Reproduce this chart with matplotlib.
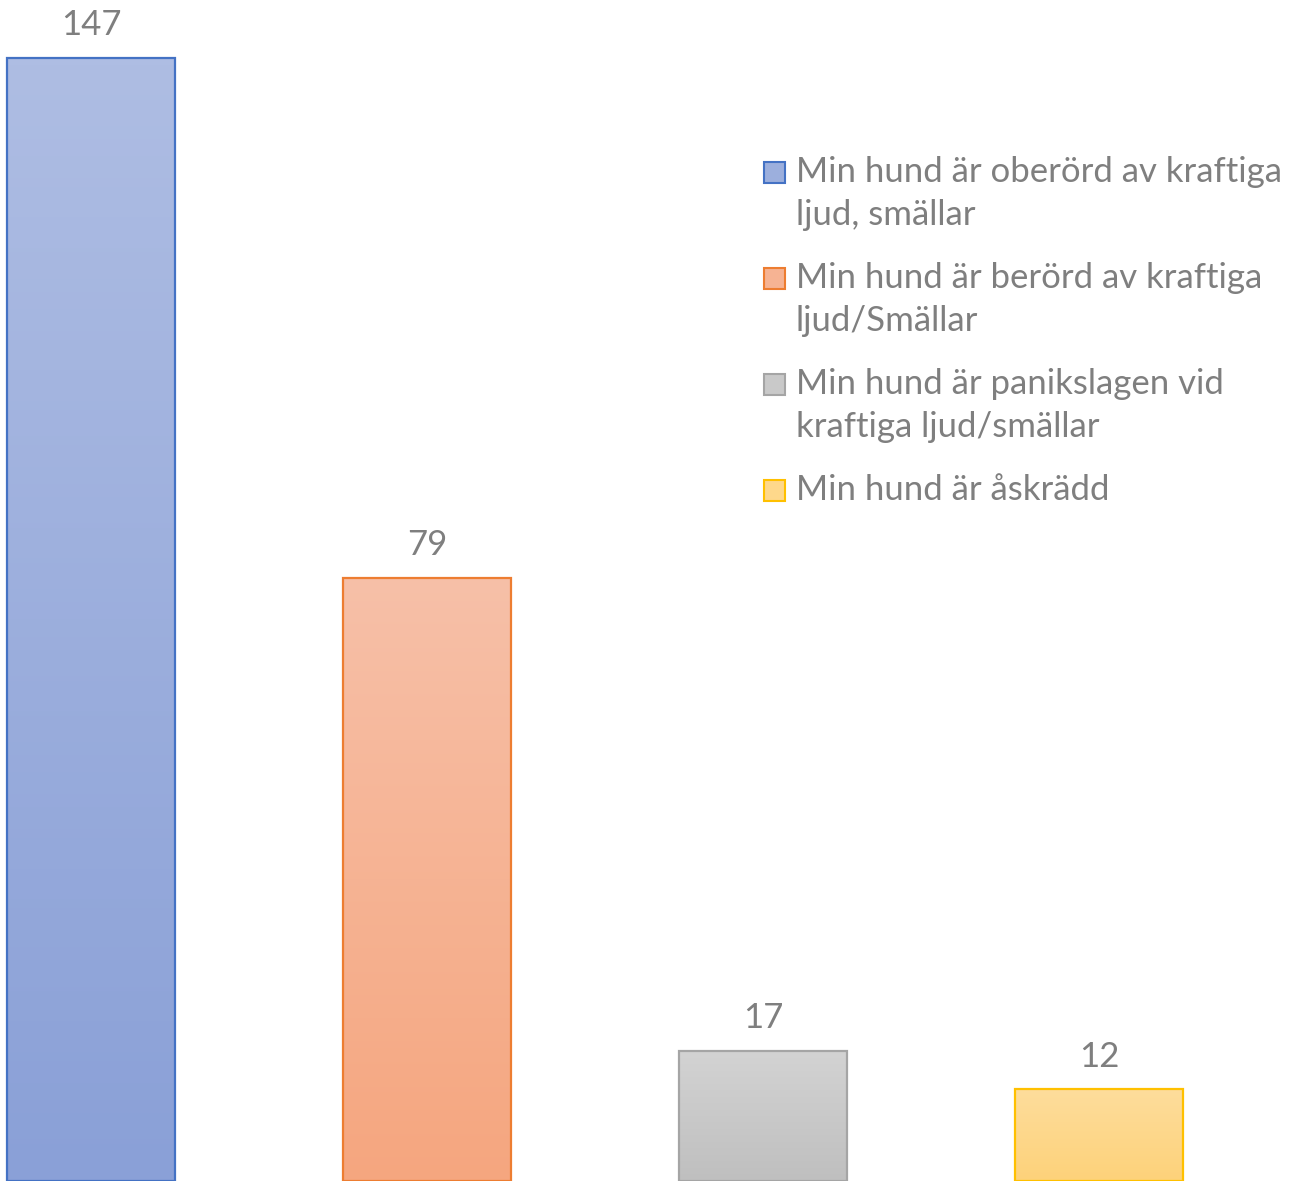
import numpy as np
import matplotlib.pyplot as plt
from matplotlib.colors import LinearSegmentedColormap, to_rgb
from matplotlib.patches import Rectangle

plt.rcParams['font.family'] = ['Lato', 'DejaVu Sans']

# data
labels = [
    "Min hund är oberörd av kraftiga\nljud, smällar",
    "Min hund är berörd av kraftiga\nljud/Smällar",
    "Min hund är panikslagen vid\nkraftiga ljud/smällar",
    "Min hund är åskrädd",
]
values = [147, 79, 17, 12]

# excel-ish styling: (top colour, bottom colour, edge colour)
tops = ['#aebde3', '#f7c0a8', '#d3d3d3', '#fedd9c']
bottoms = ['#8aa0d7', '#f5a67f', '#bfbfbf', '#fdd27a']
edges = ['#4472c4', '#ed7d31', '#a5a5a5', '#ffc000']
text_col = '#7f7f7f'

W, H = 1292, 1181
fig = plt.figure(figsize=(W / 100, H / 100), dpi=100)
ax = fig.add_axes([0, 0, 1, 1])
ax.set_xlim(-0.271, 3.574)
ax.set_ylim(0, 154.6)
ax.axis('off')

x = np.arange(len(values))
bars = ax.bar(x, values, width=0.5, facecolor='none', edgecolor='none')

grad = np.linspace(1, 0, 256).reshape(-1, 1)
for b, v, top, bot, ec in zip(bars, values, tops, bottoms, edges):
    x0, w = b.get_x(), b.get_width()
    cmap = LinearSegmentedColormap.from_list('g', [bot, top])
    im = ax.imshow(grad, cmap=cmap, aspect='auto', extent=(x0, x0 + w, 0, v),
                   interpolation='bilinear', zorder=1)
    im.set_clip_path(b)
    b.set_edgecolor(ec)
    b.set_linewidth(1.6)
    b.set_zorder(2)
    ax.annotate(str(v), (x0 + w / 2, v), xytext=(0, 12), textcoords='offset points',
                ha='center', va='bottom', fontsize=25, color=text_col)

# legend, laid out by hand (pixel positions -> figure fraction)
line_h, gap = 45, 16
ytop = 150
for lab, top, bot, ec in zip(labels, tops, bottoms, edges):
    fc = (np.array(to_rgb(top)) + np.array(to_rgb(bot))) / 2
    fig.add_artist(Rectangle((764 / W, 1 - (ytop + 33) / H), 21 / W, 21 / H,
                             transform=fig.transFigure, facecolor=fc,
                             edgecolor=ec, linewidth=1.5))
    fig.text(796 / W, 1 - (ytop + 6) / H, lab, ha='left', va='top', fontsize=25,
             color=text_col, linespacing=1.43)
    ytop += line_h * (lab.count('\n') + 1) + gap

fig.savefig('out.png', dpi=100)
